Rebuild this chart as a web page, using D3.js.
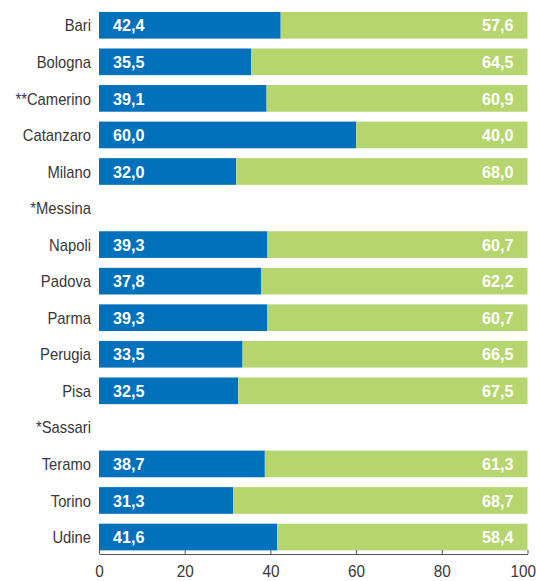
<!DOCTYPE html>
<html>
<head>
<meta charset="utf-8">
<script src="https://cdn.jsdelivr.net/npm/d3@7"></script>
<style>
  body { margin: 0; background: #fff; }
  svg text { font-family: "Liberation Sans", Arial, sans-serif; }
</style>
</head>
<body>
<svg id="chart" width="536" height="581"></svg>
<script>
// sedi (le righe senza dati restano vuote)
const sedi = ["Bari", "Bologna", "**Camerino", "Catanzaro", "Milano", "*Messina", "Napoli",
  "Padova", "Parma", "Perugia", "Pisa", "*Sassari", "Teramo", "Torino", "Udine"];
const quotaBlu = [42.4, 35.5, 39.1, 60.0, 32.0, null, 39.3, 37.8, 39.3, 33.5, 32.5, null, 38.7, 31.3, 41.6];
const quotaVerde = [57.6, 64.5, 60.9, 40.0, 68.0, null, 60.7, 62.2, 60.7, 66.5, 67.5, null, 61.3, 68.7, 58.4];
const tickValori = [0, 20, 40, 60, 80, 100];

const colBlu = "#0071ba";
const colVerde = "#b6d56f";
const fmt = v => d3.format(".1f")(v).replace(".", ",");

const svg = d3.select("#chart");
const x = d3.scaleLinear().domain([0, 100]).range([99, 527.5]);
const y = d3.scaleBand().domain(sedi).range([7, 555.3]).paddingInner(0.27).paddingOuter(0.135);
const mid = s => y(s) + y.bandwidth() / 2;

const righe = sedi.map((s, i) => ({ sede: s, blu: quotaBlu[i], verde: quotaVerde[i] }));

// etichette categorie (carattere stretto simulato)
svg.append("g").selectAll("text")
  .data(righe)
  .join("text")
  .attr("transform", d => `translate(91,${mid(d.sede)}) scale(0.87,1)`)
  .attr("dy", "0.36em")
  .attr("text-anchor", "end")
  .attr("font-size", 17)
  .attr("fill", "#383838")
  .text(d => d.sede);

const conDati = righe.filter(d => d.blu != null);

// barre
const g = svg.append("g");
g.selectAll("rect.blu")
  .data(conDati)
  .join("rect")
  .attr("class", "blu")
  .attr("x", x(0))
  .attr("y", d => y(d.sede))
  .attr("width", d => x(d.blu) - x(0))
  .attr("height", y.bandwidth())
  .attr("fill", colBlu);

g.selectAll("rect.verde")
  .data(conDati)
  .join("rect")
  .attr("class", "verde")
  .attr("x", d => x(d.blu))
  .attr("y", d => y(d.sede))
  .attr("width", d => x(d.blu + d.verde) - x(d.blu))
  .attr("height", y.bandwidth())
  .attr("fill", colVerde);

// valori
g.selectAll("text.vblu")
  .data(conDati)
  .join("text")
  .attr("class", "vblu")
  .attr("transform", d => `translate(${x(0) + 14},${mid(d.sede)}) scale(0.95,1)`)
  .attr("dy", "0.36em")
  .attr("font-size", 17)
  .attr("font-weight", "bold")
  .attr("fill", "#fff")
  .text(d => fmt(d.blu));

g.selectAll("text.vverde")
  .data(conDati)
  .join("text")
  .attr("class", "vverde")
  .attr("transform", d => `translate(${x(100) - 14},${mid(d.sede)}) scale(0.95,1)`)
  .attr("dy", "0.36em")
  .attr("text-anchor", "end")
  .attr("font-size", 17)
  .attr("font-weight", "bold")
  .attr("fill", "#fff")
  .text(d => fmt(d.verde));

// asse x
const asse = svg.append("g")
  .attr("transform", "translate(0,554)")
  .call(d3.axisBottom(x).tickValues(tickValori).tickSizeInner(-4).tickSizeOuter(0).tickPadding(11));
asse.select(".domain").attr("stroke", "#555");
asse.selectAll(".tick line").attr("stroke", "#555");
asse.selectAll(".tick text")
  .attr("font-size", 17)
  .attr("fill", "#383838")
  .attr("font-family", "Liberation Sans, Arial, sans-serif")
  .attr("transform", "scale(0.9,1)")
  .attr("text-anchor", d => d === 100 ? "end" : "middle")
  .attr("dx", d => d === 100 ? 9 : 0);
</script>
</body>
</html>
